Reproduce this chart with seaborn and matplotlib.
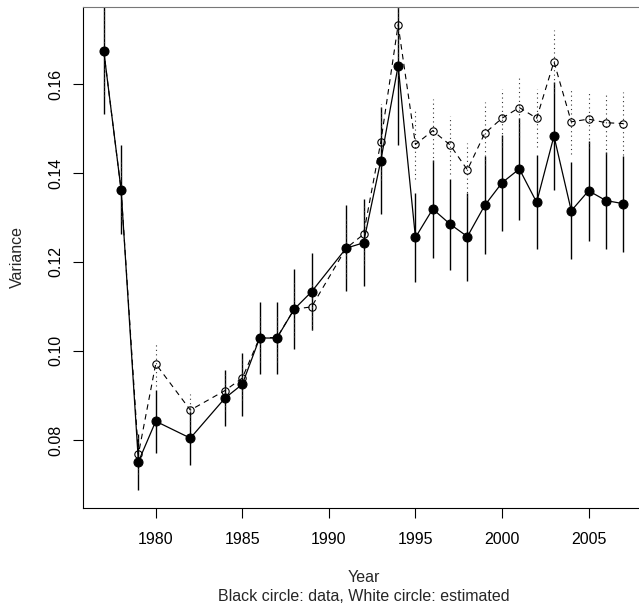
import numpy as np
import pandas as pd
import matplotlib
matplotlib.use("Agg")
import matplotlib.pyplot as plt
import seaborn as sns

years = [1977, 1978, 1979, 1980, 1982, 1984, 1985, 1986, 1987, 1988, 1989,
         1991, 1992, 1993, 1994, 1995, 1996, 1997, 1998, 1999, 2000, 2001,
         2002, 2003, 2004, 2005, 2006, 2007]
data_var = [0.1674, 0.1362, 0.0751, 0.0842, 0.0804, 0.0894, 0.0925, 0.1029,
            0.1029, 0.1094, 0.1133, 0.1231, 0.1243, 0.1428, 0.1641, 0.1255,
            0.1319, 0.1285, 0.1257, 0.1327, 0.1378, 0.1409, 0.1334, 0.1483,
            0.1315, 0.1360, 0.1338, 0.1331]
data_err = [0.0141, 0.0100, 0.0063, 0.0071, 0.0060, 0.0063, 0.0071, 0.0080,
            0.0080, 0.0090, 0.0087, 0.0096, 0.0098, 0.0121, 0.0178, 0.0101,
            0.0111, 0.0102, 0.0099, 0.0110, 0.0108, 0.0114, 0.0106, 0.0122,
            0.0109, 0.0112, 0.0110, 0.0108]
est_var = [0.1674, 0.1362, 0.0768, 0.0971, 0.0867, 0.0911, 0.0939, 0.1030,
           0.1030, 0.1094, 0.1099, 0.1231, 0.1262, 0.1470, 0.1733, 0.1464,
           0.1495, 0.1463, 0.1407, 0.1489, 0.1523, 0.1547, 0.1523, 0.1650,
           0.1515, 0.1521, 0.1513, 0.1511]
est_err = [0.0100, 0.0070, 0.0045, 0.0050, 0.0036, 0.0045, 0.0050, 0.0055,
           0.0055, 0.0062, 0.0052, 0.0066, 0.0068, 0.0085, 0.0125, 0.0078,
           0.0071, 0.0065, 0.0060, 0.0071, 0.0065, 0.0067, 0.0065, 0.0071,
           0.0073, 0.0064, 0.0070, 0.0070]
x_ticks = [1980, 1985, 1990, 1995, 2000, 2005]
y_ticks = [0.08, 0.10, 0.12, 0.14, 0.16]
y_tick_labels = ["0.08", "0.10", "0.12", "0.14", "0.16"]

df = pd.DataFrame({"Year": years, "data": data_var, "derr": data_err,
                   "est": est_var, "eerr": est_err})

sns.set_style("ticks")
plt.rcParams["font.family"] = ["Liberation Sans", "DejaVu Sans"]
FS = 11.5

fig = plt.figure(figsize=(6.39, 6.10), dpi=100)
W, H = 639, 610
ax = fig.add_axes([83 / W, 1 - 508 / H, 561 / W, 501 / H])

# error bars
ax.vlines(df["Year"], df["data"] - df["derr"], df["data"] + df["derr"],
          colors="black", linewidth=1.0, zorder=2)
ax.vlines(df["Year"], df["est"] - df["eerr"], df["est"] + df["eerr"],
          colors="#333333", linewidth=0.8, linestyles=(0, (1, 3)), zorder=2)

# data series
sns.lineplot(data=df, x="Year", y="data", color="black", linewidth=0.9,
             marker="o", markersize=6.5, markerfacecolor="black",
             markeredgecolor="black", estimator=None, ax=ax, zorder=3)
sns.lineplot(data=df, x="Year", y="est", color="black", linewidth=0.8,
             linestyle=(0, (5, 4)), marker="o", markersize=5.3,
             markerfacecolor="none", markeredgecolor="black",
             markeredgewidth=0.8, estimator=None, ax=ax, zorder=4)

ax.set_xlim(1975.8, 2008.2)
ax.set_ylim(0.0647, 0.1773)
ax.set_xticks(x_ticks)
ax.set_xticklabels([str(t) for t in x_ticks], fontsize=FS)
ax.set_yticks(y_ticks)
ax.set_yticklabels(y_tick_labels, fontsize=FS, rotation=90, ha="center",
                   va="center")
ax.tick_params(axis="x", length=7, width=0.8, pad=15.5, colors="black")
ax.tick_params(axis="y", length=7, width=0.8, pad=12.5, colors="black")
for lab in ax.get_xticklabels():
    lab.set_va("center")

for s in ["left", "bottom"]:
    ax.spines[s].set_color("black")
    ax.spines[s].set_linewidth(0.8)
ax.spines["top"].set_color("#777777")
ax.spines["top"].set_linewidth(0.8)
ax.spines["right"].set_color("black")

ax.set_xlabel("Year", fontsize=FS)
ax.xaxis.set_label_coords(0.5, (508 - 577.7) / 501)
ax.xaxis.label.set_va("center")
ax.set_ylabel("Variance", fontsize=FS)
ax.yaxis.set_label_coords((17 - 83) / 561, 0.5)
ax.yaxis.label.set_va("center")
ax.text(0.5, (508 - 596.7) / 501, "Black circle: data, White circle: estimated",
        transform=ax.transAxes, ha="center", va="center", fontsize=FS)

fig.savefig("out.png", dpi=100)
